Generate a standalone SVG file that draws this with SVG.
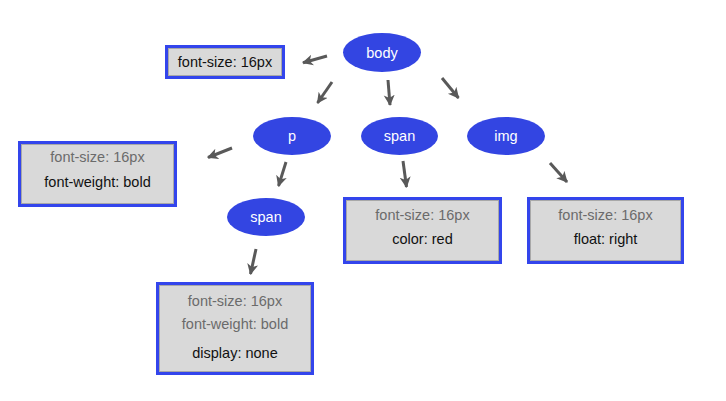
<svg xmlns="http://www.w3.org/2000/svg" width="726" height="401" viewBox="0 0 726 401">
<style>
.bg{fill:#ffffff}
.el{fill:#3345e2}
.elt{font-family:"Liberation Sans",Arial,sans-serif;font-size:14.5px;fill:#ffffff;text-anchor:middle}
.box{fill:#d9d9d9;stroke:#3345ec;stroke-width:3}
.inner{fill:none;stroke:#a8a8a8;stroke-width:1}
.t{font-family:"Liberation Sans",Arial,sans-serif;font-size:14.5px;text-anchor:middle}
.g{fill:#6b6b6b}
.k{fill:#111111}
.con line{stroke:#595959;stroke-width:3;marker-end:url(#ah)}
</style>
<defs>
<marker id="ah" markerUnits="userSpaceOnUse" markerWidth="14" markerHeight="14" refX="10" refY="5.5" orient="auto">
<path d="M0,0 L11,5.5 L0,11 L3,5.5 Z" fill="#595959"/>
</marker>
</defs>
<rect class="bg" width="726" height="401"/>
<g id="connectors" class="con">
<line x1="327" y1="56" x2="303" y2="62.8"/>
<line x1="332" y1="82" x2="317.5" y2="103"/>
<line x1="388" y1="80" x2="390" y2="105"/>
<line x1="442" y1="78" x2="458.5" y2="98"/>
<line x1="232" y1="148" x2="208" y2="157.5"/>
<line x1="286" y1="162" x2="278.5" y2="186"/>
<line x1="403" y1="161" x2="406.5" y2="187"/>
<line x1="550" y1="163" x2="567" y2="182"/>
<line x1="256" y1="249" x2="250.5" y2="274"/>
</g>
<g id="body">
<ellipse class="el" cx="382" cy="52.5" rx="39" ry="19.5"/>
<text class="elt" x="382" y="57.5">body</text>
</g>
<g id="body-style">
<rect class="box" x="166.5" y="46.5" width="117" height="31"/>
<rect class="inner" x="168.5" y="48.5" width="113" height="27"/>
<text class="t k" x="225" y="67">font-size: 16px</text>
</g>
<g id="p">
<ellipse class="el" cx="292" cy="136" rx="39" ry="19"/>
<text class="elt" x="292" y="141">p</text>
</g>
<g id="p-style">
<rect class="box" x="19.5" y="142.5" width="156" height="63"/>
<rect class="inner" x="21.5" y="144.5" width="152" height="59"/>
<text class="t g" x="97.5" y="162">font-size: 16px</text>
<text class="t k" x="97.5" y="187">font-weight: bold</text>
</g>
<g id="span1">
<ellipse class="el" cx="399.5" cy="136" rx="38.5" ry="19"/>
<text class="elt" x="399.5" y="141">span</text>
</g>
<g id="span1-style">
<rect class="box" x="344.5" y="198.5" width="156" height="64"/>
<rect class="inner" x="346.5" y="200.5" width="152" height="60"/>
<text class="t g" x="422.5" y="220">font-size: 16px</text>
<text class="t k" x="422.5" y="244">color: red</text>
</g>
<g id="img">
<ellipse class="el" cx="506" cy="136" rx="39" ry="19"/>
<text class="elt" x="506" y="141">img</text>
</g>
<g id="img-style">
<rect class="box" x="528.5" y="198.5" width="154" height="64"/>
<rect class="inner" x="530.5" y="200.5" width="150" height="60"/>
<text class="t g" x="605.5" y="220">font-size: 16px</text>
<text class="t k" x="605.5" y="244">float: right</text>
</g>
<g id="span2">
<ellipse class="el" cx="266" cy="217" rx="39" ry="19"/>
<text class="elt" x="266" y="222">span</text>
</g>
<g id="span2-style">
<rect class="box" x="157.5" y="283.5" width="155" height="90"/>
<rect class="inner" x="159.5" y="285.5" width="151" height="86"/>
<text class="t g" x="235" y="306">font-size: 16px</text>
<text class="t g" x="235" y="329">font-weight: bold</text>
<text class="t k" x="235" y="358">display: none</text>
</g>
</svg>
